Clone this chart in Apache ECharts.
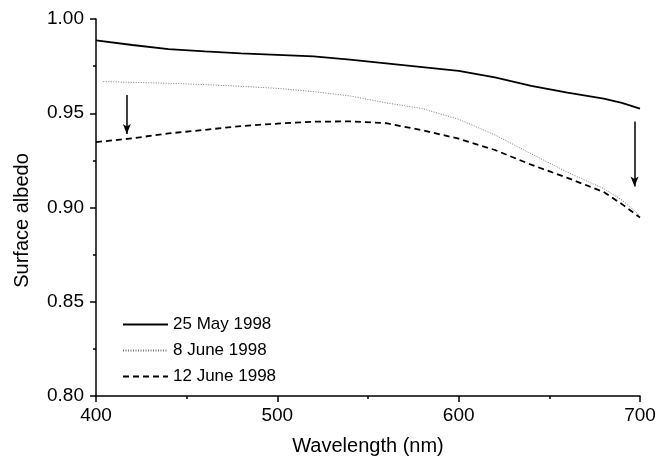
<!DOCTYPE html>
<html>
<head>
<meta charset="utf-8">
<script src="https://cdn.jsdelivr.net/npm/echarts@6/dist/echarts.min.js"></script>
<style>
  html, body { margin: 0; padding: 0; background: #fff; }
  #chart { width: 668px; height: 466px; }
</style>
</head>
<body>
<div id="chart"></div>
<script>
// wavelengths (nm)
const wavelengths = [400, 420, 440, 460, 480, 500, 520, 540, 560, 580, 600, 620, 640, 660, 680, 690, 700]
const wavelengthsJune8 = [404, 420, 440, 460, 480, 500, 520, 540, 560, 580, 600, 620, 640, 660, 680, 690, 700]
// surface albedo per date
const may25 = [0.9887, 0.9862, 0.9840, 0.9828, 0.9818, 0.9810, 0.9802, 0.9785, 0.9765, 0.9745, 0.9725, 0.9690, 0.9645, 0.9610, 0.9577, 0.9555, 0.9525]
const june8 = [0.9668, 0.9664, 0.9659, 0.9652, 0.9643, 0.9632, 0.9615, 0.9592, 0.9555, 0.9525, 0.9468, 0.9385, 0.9285, 0.9187, 0.9100, 0.9040, 0.8958]
const june12 = [0.9347, 0.9367, 0.9393, 0.9412, 0.9432, 0.9445, 0.9455, 0.9457, 0.9447, 0.9410, 0.9365, 0.9305, 0.9227, 0.9157, 0.9082, 0.9018, 0.8947]
const seriesNames = ['25 May 1998', '8 June 1998', '12 June 1998']
// arrows (nm, from albedo, to albedo)
const arrowNm = [417, 697]
const arrowFrom = [0.9597, 0.9456]
const arrowTo = [0.9390, 0.9111]

const font = 'Liberation Sans, Arial, sans-serif'
const pairs = (xs, ys) => xs.map((x, i) => [x, ys[i]])

const axisCommon = {
  axisLine: { lineStyle: { color: '#000', width: 1.5 } },
  axisTick: { length: 6, lineStyle: { color: '#000', width: 1.5 } },
  minorTick: { show: true, splitNumber: 2, length: 3, lineStyle: { color: '#000', width: 1.5 } },
  splitLine: { show: false },
  minorSplitLine: { show: false },
  axisLabel: { color: '#000', fontSize: 19, fontFamily: font },
  nameTextStyle: { color: '#000', fontSize: 20, fontFamily: font }
}

const chart = echarts.init(document.getElementById('chart'))
chart.setOption({
  animation: false,
  grid: { left: 96, right: 28, top: 19, bottom: 70 },
  legend: {
    orient: 'vertical',
    left: 117,
    top: 311,
    itemWidth: 45,
    itemHeight: 14,
    itemGap: 9,
    data: seriesNames,
    itemStyle: { opacity: 0 },
    textStyle: { color: '#000', fontSize: 17, fontFamily: font }
  },
  xAxis: Object.assign({}, axisCommon, {
    type: 'value',
    min: 400,
    max: 700,
    interval: 100,
    name: 'Wavelength (nm)',
    nameLocation: 'middle',
    nameGap: 40,
    axisLabel: Object.assign({}, axisCommon.axisLabel, { margin: 10 })
  }),
  yAxis: Object.assign({}, axisCommon, {
    type: 'value',
    min: 0.8,
    max: 1.0,
    interval: 0.05,
    name: 'Surface albedo',
    nameLocation: 'middle',
    nameGap: 64,
    nameTextStyle: Object.assign({}, axisCommon.nameTextStyle, { padding: [0, 26, 0, 0] }),
    axisLabel: Object.assign({}, axisCommon.axisLabel, {
      margin: 12,
      formatter: (v) => v.toFixed(2)
    })
  }),
  series: [
    {
      name: seriesNames[0],
      type: 'line',
      symbol: 'none',
      data: pairs(wavelengths, may25),
      lineStyle: { color: '#000', width: 1.8 },
      itemStyle: { color: '#000' }
    },
    {
      name: seriesNames[1],
      type: 'line',
      symbol: 'none',
      data: pairs(wavelengthsJune8, june8),
      lineStyle: { color: '#777', width: 1, type: [1, 1.5] },
      itemStyle: { color: '#777' }
    },
    {
      name: seriesNames[2],
      type: 'line',
      symbol: 'none',
      data: pairs(wavelengths, june12),
      lineStyle: { color: '#000', width: 1.8, type: [6, 4] },
      itemStyle: { color: '#000' }
    },
    {
      name: 'arrows',
      type: 'line',
      symbol: 'none',
      data: [],
      markLine: {
        silent: true,
        symbol: ['none', 'arrow'],
        symbolSize: [6, 10],
        label: { show: false },
        lineStyle: { color: '#000', width: 1.5, type: 'solid' },
        data: arrowNm.map((nm, i) => [
          { coord: [nm, arrowFrom[i]] },
          { coord: [nm, arrowTo[i]] }
        ])
      }
    }
  ]
})
</script>
</body>
</html>
